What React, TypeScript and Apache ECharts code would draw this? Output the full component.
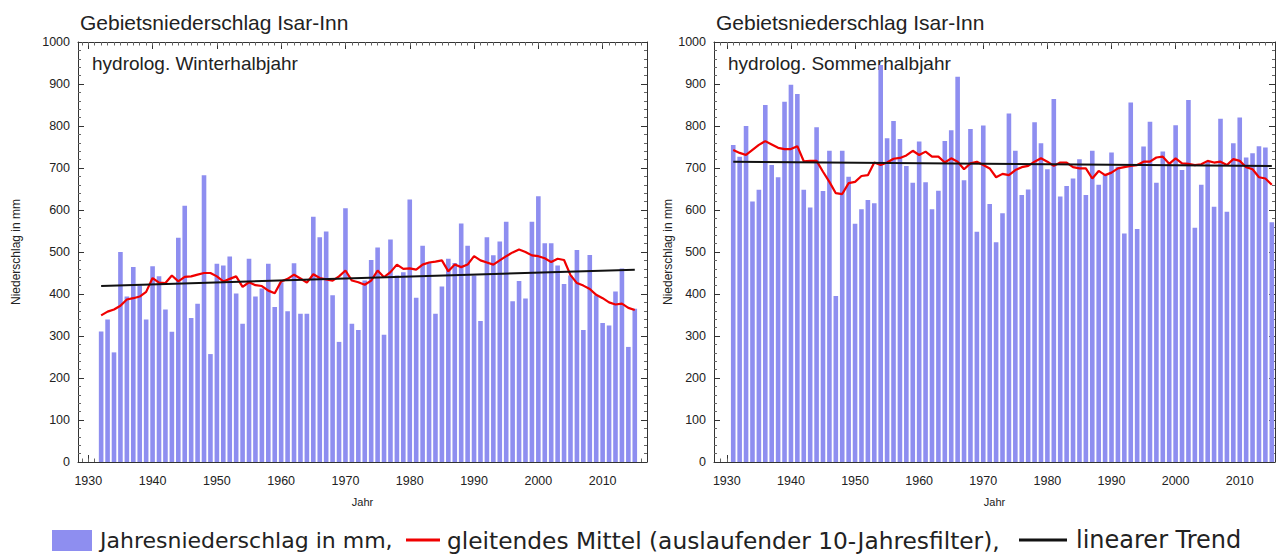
import React, { useEffect, useRef } from "react";
import * as echarts from "echarts";

// ---------- data ----------
const winterStart = 1932;
const winterValues = [
  311, 339, 261, 500, 394, 464, 420, 339, 466, 442,
  363, 310, 534, 610, 343, 377, 683, 257, 472, 468,
  489, 401, 329, 484, 394, 413, 472, 369, 428, 359,
  473, 353, 353, 584, 535, 549, 397, 286, 604, 329,
  314, 432, 481, 511, 303, 530, 444, 452, 625, 391,
  515, 476, 353, 418, 484, 474, 568, 515, 444, 336,
  535, 492, 525, 572, 383, 431, 389, 572, 633, 521,
  521, 468, 424, 444, 505, 314, 493, 397, 331, 325,
  406, 461, 274, 365,
];
const winterMean = [
  349, 358, 363, 372, 387, 390, 394, 405, 438, 427,
  426, 444, 430, 441, 442, 446, 450, 450, 442, 430,
  436, 442, 417, 428, 421, 419, 408, 402, 430, 436,
  446, 437, 427, 447, 438, 435, 432, 442, 456, 432,
  428, 422, 432, 456, 440, 452, 470, 460, 461, 458,
  470, 475, 477, 480, 454, 470, 464, 470, 490, 480,
  475, 470, 480, 490, 499, 506, 500, 492, 490, 485,
  476, 484, 481, 445, 426, 420, 412, 398, 390, 380,
  375, 377, 367, 362,
];
const winterTrend = [419, 458];

const summerStart = 1931;
const summerValues = [
  755, 727, 800, 620, 648, 850, 707, 678, 858, 898,
  876, 648, 606, 797, 645, 741, 395, 741, 679, 567,
  602, 624, 616, 945, 771, 812, 769, 705, 665, 763,
  666, 602, 646, 764, 790, 917, 671, 793, 548, 801,
  614, 523, 592, 830, 741, 636, 649, 809, 759, 697,
  864, 632, 657, 675, 721, 636, 741, 660, 685, 737,
  703, 544, 856, 555, 751, 810, 665, 739, 711, 802,
  695, 862, 558, 660, 715, 608, 817, 596, 759, 820,
  725, 735, 752, 749, 571,
];
const summerMean = [
  743, 736, 731, 743, 755, 764, 756, 748, 745, 745,
  752, 716, 717, 717, 691, 667, 640, 638, 664, 667,
  681, 683, 713, 707, 713, 722, 724, 730, 741, 731,
  739, 727, 727, 713, 723, 715, 697, 711, 715, 707,
  699, 678, 686, 683, 695, 702, 705, 715, 723, 715,
  705, 713, 713, 702, 699, 699, 675, 693, 683, 689,
  699, 702, 705, 707, 715, 715, 725, 727, 710, 723,
  711, 710, 707, 709, 717, 713, 715, 707, 721, 717,
  702, 697, 678, 675, 660,
];
const summerTrend = [715, 705];

const majorYears = [1930, 1940, 1950, 1960, 1970, 1980, 1990, 2000, 2010];
const firstMinorYear = 1929;
const lastMinorYear = 2016;

const titleText = "Gebietsniederschlag Isar-Inn";
const winterLabel = "hydrolog. Winterhalbjahr";
const summerLabel = "hydrolog. Sommerhalbjahr";
const yName = "Niederschlag in mm";
const xName = "Jahr";
const barName = "Jahresniederschlag in mm,";
const meanName = "gleitendes Mittel (auslaufender 10-Jahresfilter),";
const trendName = "linearer Trend";

// ---------- helpers ----------
const FONT = "Liberation Sans, Arial, Helvetica, sans-serif";
const LEGEND_FONT = "DejaVu Sans, Verdana, sans-serif";
const AX = "#333";
const BAR_COLOR = "#8e8ef0";
const MEAN_COLOR = "#f00000";
const TREND_COLOR = "#111111";
const minorYears: number[] = [];
for (let y = firstMinorYear; y <= lastMinorYear; y++) minorYears.push(y);

const plain = (v: number) => String(v);

function pairs(start: number, vals: number[]) {
  return vals.map((v, i) => [start + i, v]);
}

function xAxes(grid: number, min: number, max: number) {
  const base: any = { type: "value", gridIndex: grid, min, max, splitLine: { show: false } };
  const major = { show: true, inside: true, length: 7, customValues: majorYears, lineStyle: { color: AX, width: 1 } };
  const minor = { show: true, inside: true, length: 3.5, customValues: minorYears, lineStyle: { color: "#666", width: 1 } };
  return [
    {
      ...base,
      position: "bottom",
      axisLine: { show: true, lineStyle: { color: AX, width: 1 } },
      axisTick: major,
      axisLabel: { show: true, customValues: majorYears, formatter: plain, margin: 12, fontSize: 12.5, color: "#222", fontFamily: FONT },
      name: xName,
      nameLocation: "middle",
      nameGap: 34,
      nameTextStyle: { fontSize: 11, color: "#222", fontFamily: FONT },
    },
    { ...base, position: "bottom", axisLine: { show: false }, axisTick: minor, axisLabel: { show: false } },
    { ...base, position: "top", axisLine: { show: true, lineStyle: { color: AX, width: 1 } }, axisTick: major, axisLabel: { show: false } },
    { ...base, position: "top", axisLine: { show: false }, axisTick: minor, axisLabel: { show: false } },
  ];
}

function yAxes(grid: number, nameGap: number) {
  const base: any = {
    type: "value",
    gridIndex: grid,
    min: 0,
    max: 1000,
    interval: 100,
    splitLine: { show: false },
    minorSplitLine: { show: false },
    axisLine: { show: true, lineStyle: { color: AX, width: 1 } },
    axisTick: { show: true, inside: true, length: 6, lineStyle: { color: AX } },
    minorTick: { show: true, splitNumber: 5, length: 3, lineStyle: { color: "#666" } },
  };
  return [
    {
      ...base,
      position: "left",
      axisLabel: { show: true, formatter: plain, margin: 8, fontSize: 12.5, color: "#222", fontFamily: FONT },
      name: yName,
      nameLocation: "middle",
      nameGap,
      nameTextStyle: { fontSize: 12, color: "#222", fontFamily: FONT },
    },
    { ...base, position: "right", axisLabel: { show: false } },
  ];
}

function panelSeries(xi: number, yi: number, start: number, vals: number[], mean: number[], trend: number[]) {
  const end = start + vals.length - 1;
  return [
    {
      name: barName,
      type: "bar",
      xAxisIndex: xi,
      yAxisIndex: yi,
      barWidth: 4.6,
      itemStyle: { color: BAR_COLOR },
      data: pairs(start, vals),
    },
    {
      name: meanName,
      type: "line",
      xAxisIndex: xi,
      yAxisIndex: yi,
      symbol: "none",
      lineStyle: { color: MEAN_COLOR, width: 2.2 },
      itemStyle: { color: MEAN_COLOR },
      data: pairs(start, mean),
    },
    {
      name: trendName,
      type: "line",
      xAxisIndex: xi,
      yAxisIndex: yi,
      symbol: "none",
      lineStyle: { color: TREND_COLOR, width: 2 },
      itemStyle: { color: TREND_COLOR },
      data: [
        [start, trend[0]],
        [end, trend[1]],
      ],
    },
  ];
}

function legendText(x: number, text: string, size: number) {
  return {
    type: "text",
    x,
    y: 540,
    style: { text, fontSize: size, fontFamily: LEGEND_FONT, fill: "#222", verticalAlign: "middle" },
  };
}

export default function App() {
  const ref = useRef<HTMLDivElement>(null);
  useEffect(() => {
    if (!ref.current) return;
    const chart = echarts.init(ref.current, undefined, { renderer: "svg" });
    const option: any = {
      animation: false,
      backgroundColor: "#ffffff",
      grid: [
        { left: 78, top: 42, width: 569, height: 420, containLabel: false },
        { left: 714, top: 42, width: 561, height: 420, containLabel: false },
      ],
      xAxis: [...xAxes(0, 1928.4, 2016.9), ...xAxes(1, 1928, 2015.5)],
      yAxis: [...yAxes(0, 56), ...yAxes(1, 28)],
      series: [
        ...panelSeries(0, 0, winterStart, winterValues, winterMean, winterTrend),
        ...panelSeries(4, 2, summerStart, summerValues, summerMean, summerTrend),
      ],
      graphic: [
        { type: "text", x: 80, y: 22, style: { text: titleText, fontSize: 21, fontFamily: FONT, fill: "#222", verticalAlign: "middle" } },
        { type: "text", x: 716, y: 22, style: { text: titleText, fontSize: 21, fontFamily: FONT, fill: "#222", verticalAlign: "middle" } },
        { type: "text", x: 92, y: 63, style: { text: winterLabel, fontSize: 19, fontFamily: FONT, fill: "#222", verticalAlign: "middle" } },
        { type: "text", x: 728, y: 63, style: { text: summerLabel, fontSize: 19, fontFamily: FONT, fill: "#222", verticalAlign: "middle" } },
        // legend
        { type: "rect", shape: { x: 52, y: 530, width: 40, height: 21 }, style: { fill: BAR_COLOR } },
        legendText(100, barName, 22),
        { type: "line", shape: { x1: 406, y1: 540, x2: 440, y2: 540 }, style: { stroke: MEAN_COLOR, lineWidth: 3.2 } },
        legendText(447, meanName, 23.3),
        { type: "line", shape: { x1: 1019, y1: 540, x2: 1067, y2: 540 }, style: { stroke: TREND_COLOR, lineWidth: 3.2 } },
        legendText(1076, trendName, 24),
      ],
    };
    chart.setOption(option);
    return () => chart.dispose();
  }, []);
  return (
    <div
      ref={ref}
      style={{ position: "fixed", left: 0, top: 0, width: 1285, height: 558, background: "#fff" }}
    />
  );
}
